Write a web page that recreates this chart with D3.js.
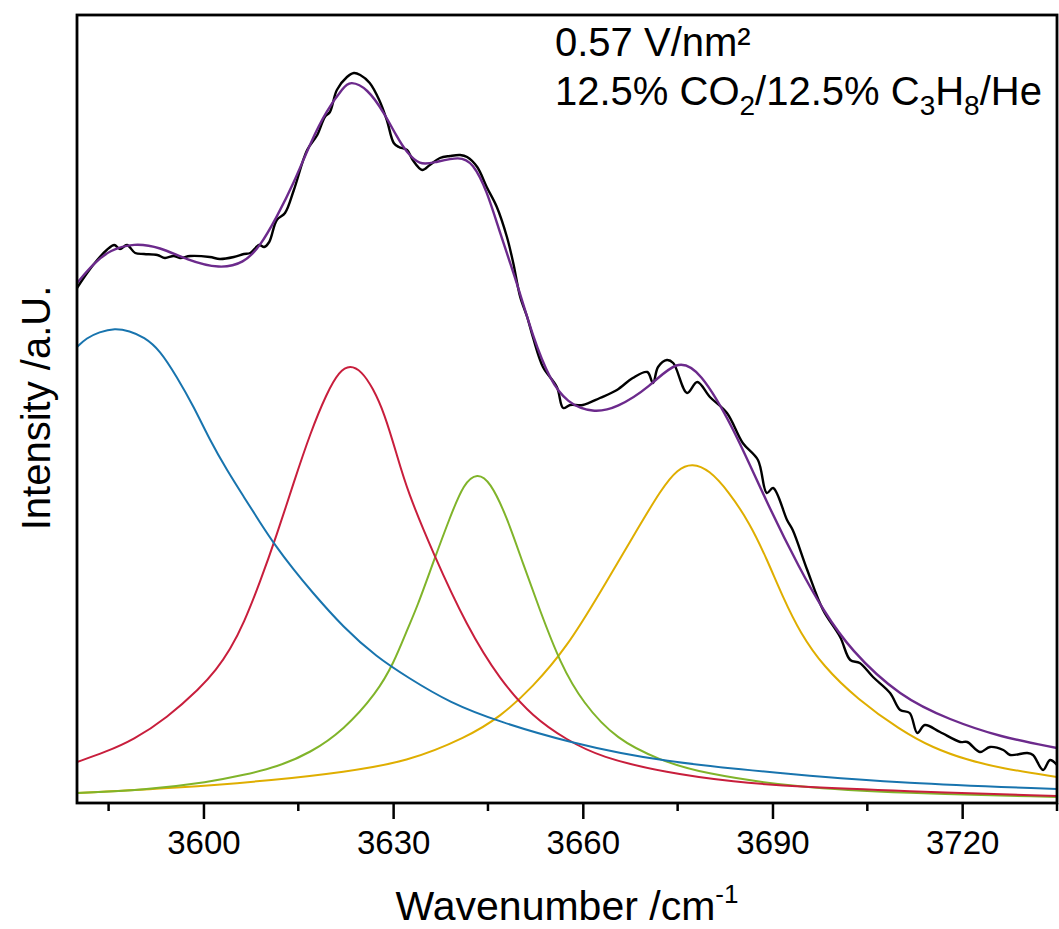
<!DOCTYPE html>
<html>
<head>
<meta charset="utf-8">
<script src="https://cdn.jsdelivr.net/npm/d3@7"></script>
<style>
  body { margin: 0; background: #fff; }
  text { font-family: "Liberation Sans", Arial, sans-serif; fill: #000; }
</style>
</head>
<body>
<script>
(function(){

//wavenumber /cm-1 and intensity /a.U.
var dataPoints = [
  [3580.0, .515], [3581.6, .530], [3583.2, .543], [3584.7, .553], [3585.9, .558], [3586.8, .554],
  [3587.9, .558], [3589.2, .550], [3590.6, .549], [3592.7, .548], [3593.9, .545], [3595.3, .547],
  [3596.3, .545], [3597.9, .547], [3601.0, .546], [3602.6, .544], [3604.8, .546], [3606.4, .549],
  [3607.4, .550], [3608.8, .558], [3609.6, .556], [3610.4, .561], [3611.6, .583], [3612.9, .590],
  [3614.3, .613], [3616.4, .653], [3618.0, .668], [3619.2, .686], [3620.0, .691], [3621.1, .713],
  [3622.7, .726], [3623.8, .730], [3624.8, .728], [3626.3, .720], [3627.8, .703], [3629.0, .683],
  [3630.1, .660], [3630.9, .656], [3632.2, .653], [3633.1, .643], [3634.6, .633], [3635.8, .638],
  [3637.4, .645], [3639.0, .647], [3640.6, .648], [3641.7, .646], [3643.3, .636], [3644.8, .616],
  [3646.4, .596], [3648.0, .566], [3649.0, .540], [3650.1, .506], [3651.2, .486], [3652.1, .466],
  [3653.7, .436], [3655.9, .416], [3656.9, .395], [3658.0, .398], [3660.0, .398], [3662.7, .405],
  [3665.4, .413], [3667.9, .425], [3670.2, .431], [3671.1, .420], [3671.9, .436], [3673.3, .443],
  [3674.3, .440], [3676.5, .410], [3678.1, .421], [3680.1, .406], [3682.8, .390], [3685.3, .360],
  [3687.7, .343], [3689.1, .310], [3690.1, .315], [3692.3, .283], [3693.2, .273], [3695.5, .233],
  [3698.0, .193], [3700.7, .166], [3702.3, .143], [3703.8, .140], [3705.9, .126], [3708.6, .110],
  [3710.2, .093], [3711.7, .090], [3712.9, .070], [3714.1, .078], [3716.5, .071], [3719.7, .061],
  [3720.8, .061], [3722.8, .051], [3724.4, .056], [3726.5, .053], [3727.6, .048], [3730.3, .050],
  [3731.2, .048], [3732.8, .033], [3733.9, .043], [3735.0, .038]
];

var fitSum = [
  [3580.0, .520], [3582.7, .540], [3585.2, .553], [3589.0, .560], [3593.1, .556], [3597.4, .543],
  [3602.6, .534], [3606.4, .540], [3608.9, .556], [3611.6, .586], [3614.3, .620], [3616.9, .660],
  [3619.5, .693], [3622.2, .716], [3623.2, .722], [3625.9, .715], [3628.6, .690], [3630.6, .666],
  [3632.2, .650], [3634.2, .638], [3636.3, .640], [3640.6, .647], [3642.6, .640], [3644.8, .613],
  [3646.9, .570], [3649.6, .520], [3652.1, .466], [3654.8, .423], [3657.5, .400], [3661.6, .390],
  [3665.4, .395], [3670.6, .416], [3674.9, .444], [3678.5, .433], [3683.8, .376], [3689.1, .300],
  [3694.4, .233], [3698.0, .193], [3702.3, .153], [3710.2, .106], [3718.1, .083], [3726.0, .066],
  [3735.0, .055]
];

var peak1 = [
  [3580.0, .456], [3581.5, .465], [3583.5, .471], [3586.0, .475], [3588.3, .472], [3590.6, .466],
  [3593.1, .453], [3595.8, .426], [3598.5, .396], [3601.0, .363], [3603.7, .333], [3606.4, .306],
  [3608.9, .281], [3611.3, .258], [3614.3, .233], [3616.9, .213], [3622.2, .175], [3627.4, .146],
  [3632.2, .126], [3639.0, .100], [3646.9, .081], [3657.5, .061], [3672.2, .041], [3694.4, .028],
  [3710.2, .020], [3735.0, .014]
];

var peak2 = [
  [3580.0, .041], [3584.5, .051], [3588.9, .063], [3594.2, .085], [3599.5, .115], [3602.0, .133],
  [3604.2, .153], [3606.4, .180], [3608.9, .220], [3611.6, .268], [3614.3, .321], [3616.9, .370],
  [3619.5, .410], [3621.5, .432], [3623.2, .438], [3625.0, .432], [3626.8, .415], [3628.6, .390],
  [3630.6, .348], [3632.2, .313], [3636.3, .250], [3641.7, .176], [3646.9, .123], [3652.1, .086],
  [3657.5, .063], [3662.7, .046], [3673.3, .030], [3683.8, .021], [3694.4, .016], [3710.2, .012],
  [3735.0, .007]
];

var peak3 = [
  [3580.0, .010], [3590.6, .013], [3601.0, .021], [3606.4, .028], [3611.6, .036], [3616.9, .050],
  [3622.2, .073], [3627.4, .110], [3630.1, .140], [3632.2, .173], [3633.8, .196], [3636.3, .240],
  [3639.0, .286], [3641.2, .320], [3643.3, .330], [3645.3, .322], [3648.0, .286], [3650.5, .240],
  [3653.2, .193], [3656.4, .140], [3660.0, .100], [3665.4, .063], [3672.2, .043], [3678.5, .030],
  [3694.4, .015], [3710.2, .010], [3735.0, .006]
];

var peak4 = [
  [3580.0, .010], [3595.8, .015], [3611.6, .023], [3622.2, .031], [3632.2, .041], [3641.7, .066],
  [3646.9, .086], [3652.1, .116], [3657.5, .156], [3662.7, .210], [3667.9, .266], [3672.5, .315],
  [3675.0, .334], [3677.3, .340], [3680.0, .333], [3683.0, .312], [3686.4, .280], [3689.1, .244],
  [3691.7, .205], [3694.4, .170], [3698.0, .137], [3703.4, .104], [3710.2, .073], [3715.4, .055],
  [3720.8, .043], [3726.0, .035], [3735.0, .026]
];

var majorTicks = [3600, 3630, 3660, 3690, 3720];
var minorTicks = [3585, 3615, 3645, 3675, 3705, 3735];

//frame
var width = 1059, height = 929,
    left = 77, right = 1057, top = 15, bottom = 803;

var svg = d3.select("body")
    .append("svg")
    .attr("width", width)
    .attr("height", height);

var x = d3.scaleLinear()
    .domain([3580, 3735])
    .range([left, right]);

var y = d3.scaleLinear()
    .domain([0, .788])
    .range([bottom, top]);

svg.append("clipPath")
    .attr("id", "plotClip")
    .append("rect")
    .attr("x", left)
    .attr("y", top)
    .attr("width", right - left)
    .attr("height", bottom - top);

//fitted curves are smooth, the measured trace follows its points
var smooth = d3.line()
    .x(function(d){ return x(d[0]); })
    .y(function(d){ return y(d[1]); })
    .curve(d3.curveBasis);

var raw = d3.line()
    .x(function(d){ return x(d[0]); })
    .y(function(d){ return y(d[1]); })
    .curve(d3.curveCatmullRom.alpha(0.5));

var curves = svg.append("g").attr("clip-path", "url(#plotClip)");

//component peaks first, then fit and data on top
var series = [
  { data: peak4, color: "#dfae00", w: 2, line: smooth },
  { data: peak3, color: "#80b42a", w: 2, line: smooth },
  { data: peak2, color: "#c81e3c", w: 2, line: smooth },
  { data: peak1, color: "#1874ae", w: 2, line: smooth },
  { data: dataPoints, color: "#000000", w: 2.4, line: raw },
  { data: fitSum, color: "#6c2a8c", w: 2.4, line: smooth }
];

curves.selectAll(".series")
    .data(series)
    .enter()
    .append("path")
    .attr("class", "series")
    .attr("d", function(d){ return d.line(d.data); })
    .style("fill", "none")
    .style("stroke", function(d){ return d.color; })
    .style("stroke-width", function(d){ return d.w; })
    .style("stroke-linejoin", "round");

//bottom axis, ticks outside
var xAxis = svg.append("g")
    .attr("transform", "translate(0," + bottom + ")")
    .call(d3.axisBottom(x).tickValues(majorTicks).tickSize(16).tickPadding(12).tickFormat(d3.format("d")));

xAxis.select(".domain").remove();
xAxis.selectAll("line").style("stroke", "#000").style("stroke-width", 2.5);
xAxis.selectAll("text")
    .style("font-size", "33px")
    .style("font-family", "'Liberation Sans', Arial, sans-serif");

svg.append("g")
    .selectAll("line")
    .data(minorTicks)
    .enter()
    .append("line")
    .attr("x1", function(d){ return x(d); })
    .attr("x2", function(d){ return x(d); })
    .attr("y1", bottom)
    .attr("y2", bottom + 8)
    .style("stroke", "#000")
    .style("stroke-width", 2.5);

//plot frame
svg.append("rect")
    .attr("x", left)
    .attr("y", top)
    .attr("width", right - left)
    .attr("height", bottom - top)
    .style("fill", "none")
    .style("stroke", "#000")
    .style("stroke-width", 2.8);

//axis titles
var xTitle = svg.append("text")
    .attr("x", (left + right) / 2)
    .attr("y", 920)
    .attr("text-anchor", "middle")
    .style("font-size", "41px");
xTitle.append("tspan").text("Wavenumber /cm");
xTitle.append("tspan").attr("dy", -17).style("font-size", "26px").text("-1");

svg.append("text")
    .attr("transform", "translate(50,408) rotate(-90)")
    .attr("text-anchor", "middle")
    .style("font-size", "40px")
    .text("Intensity /a.U.");

//annotation
svg.append("text")
    .attr("x", 555)
    .attr("y", 56)
    .style("font-size", "40px")
    .text("0.57 V/nm²");

var note = svg.append("text")
    .attr("x", 555)
    .attr("y", 105)
    .style("font-size", "40px");
var parts = [["12.5% CO", false], ["2", true], ["/12.5% C", false], ["3", true],
             ["H", false], ["8", true], ["/He", false]];
var shift = 0;
parts.forEach(function(p){
    var target = p[1] ? 10 : 0;
    note.append("tspan")
        .attr("dy", target - shift)
        .style("font-size", p[1] ? "28px" : "40px")
        .text(p[0]);
    shift = target;
});

})();
</script>
</body>
</html>
